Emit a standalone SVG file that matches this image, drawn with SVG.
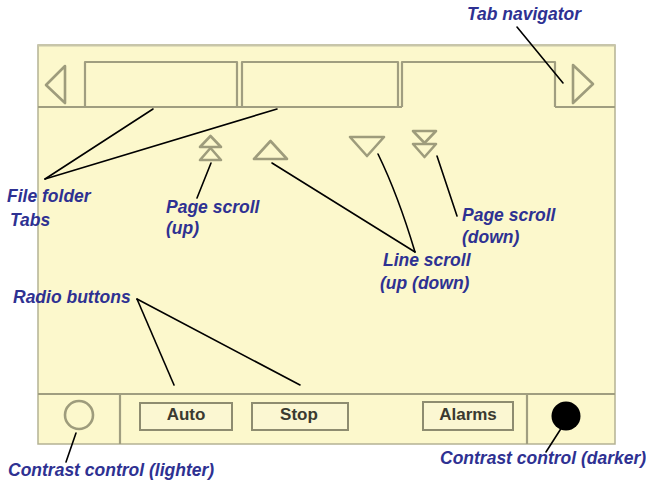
<svg xmlns="http://www.w3.org/2000/svg" width="646" height="491" viewBox="0 0 646 491">
<style>
.ui{fill:none;stroke:#a09e80;stroke-width:2.2;stroke-linejoin:round}
.ico{fill:none;stroke:#9e9c7c;stroke-width:2.6;stroke-linejoin:round}
.btn{fill:#fbf7d2;stroke:#8e8c70;stroke-width:2}
.bt{font-family:"Liberation Sans",Arial,sans-serif;font-weight:bold;font-size:17px;fill:#3a3a30;text-anchor:middle}
.lb{font-family:"Liberation Sans",Arial,sans-serif;font-weight:bold;font-style:italic;font-size:17.5px;fill:#2e3192}
.ld{fill:none;stroke:#000;stroke-width:1.6;stroke-linecap:round}
</style>
<rect width="646" height="491" fill="#fff"/>
<g id="panel">
<rect x="38" y="45" width="577" height="399" fill="#fcf8cc" stroke="#b4b294" stroke-width="1.5"/>
<line x1="38" y1="45.5" x2="615" y2="45.5" stroke="#c8c6a8" stroke-width="2"/>
</g>
<g id="tab-bar">
<polyline class="ui" points="38,107 402,107"/>
<polyline class="ui" points="555,107 615,107"/>
<polyline class="ui" points="85,107 85,62 237,62 237,107"/>
<polyline class="ui" points="242,107 242,62 398,62 398,107"/>
<polyline class="ui" points="402,107 402,62 555,62 555,107"/>
</g>
<g id="tab-navigator">
<polygon class="ico" points="65,66 46,85 65,103"/>
<polygon class="ico" points="573,65 593,84 573,103"/>
</g>
<g id="page-scroll-up">
<polygon class="ico" points="210.5,136 200,147 221,147"/>
<polygon class="ico" points="210.5,148 200,160 221,160"/>
</g>
<g id="line-scroll-up">
<polygon class="ico" points="270.5,141 254,159 287,159"/>
</g>
<g id="line-scroll-down">
<polygon class="ico" points="350,137 384,137 367,156"/>
</g>
<g id="page-scroll-down">
<polygon class="ico" points="413,131 436,131 424.5,143"/>
<polygon class="ico" points="413,144 436,144 424.5,157"/>
</g>
<g id="bottom-bar">
<line class="ui" x1="38" y1="394" x2="615" y2="394"/>
<line class="ui" x1="120" y1="394" x2="120" y2="444"/>
<line class="ui" x1="527" y1="394" x2="527" y2="444"/>
</g>
<g id="contrast-lighter">
<circle cx="79" cy="415" r="14" fill="none" stroke="#9e9c7c" stroke-width="2.6"/>
</g>
<g id="btn-auto">
<rect class="btn" x="140" y="403" width="92" height="27"/>
<text class="bt" x="186" y="420">Auto</text>
</g>
<g id="btn-stop">
<rect class="btn" x="252" y="403" width="96" height="27"/>
<text class="bt" x="299" y="420">Stop</text>
</g>
<g id="btn-alarms">
<rect class="btn" x="423" y="402" width="90" height="28"/>
<text class="bt" x="468" y="420">Alarms</text>
</g>
<g id="contrast-darker">
<circle cx="566" cy="416" r="14.5" fill="#000"/>
</g>
<g id="connectors">
<line class="ld" x1="517" y1="27" x2="563" y2="83"/>
<line class="ld" x1="45" y1="179" x2="153" y2="109"/>
<line class="ld" x1="45" y1="179" x2="277" y2="109"/>
<line class="ld" x1="197" y1="198" x2="211" y2="163"/>
<line class="ld" x1="272" y1="163" x2="415" y2="252"/>
<path class="ld" d="M378,154 Q398,195 415,252"/>
<line class="ld" x1="437" y1="156" x2="457" y2="216"/>
<line class="ld" x1="137" y1="299" x2="174" y2="385"/>
<line class="ld" x1="137" y1="299" x2="300" y2="385"/>
<line class="ld" x1="76" y1="433" x2="66" y2="462"/>
<line class="ld" x1="562" y1="427" x2="546" y2="452"/>
</g>
<g id="labels">
<text class="lb" x="467" y="20">Tab navigator</text>
<text class="lb" x="7" y="202">File folder</text>
<text class="lb" x="10" y="226">Tabs</text>
<text class="lb" x="166" y="213">Page scroll</text>
<text class="lb" x="166" y="234">(up)</text>
<text class="lb" x="462" y="221">Page scroll</text>
<text class="lb" x="462" y="243">(down)</text>
<text class="lb" x="383" y="266">Line scroll</text>
<text class="lb" x="380" y="289">(up (down)</text>
<text class="lb" x="13" y="303">Radio buttons</text>
<text class="lb" x="8" y="476">Contrast control (lighter)</text>
<text class="lb" x="440" y="464">Contrast control (darker)</text>
</g>
</svg>
